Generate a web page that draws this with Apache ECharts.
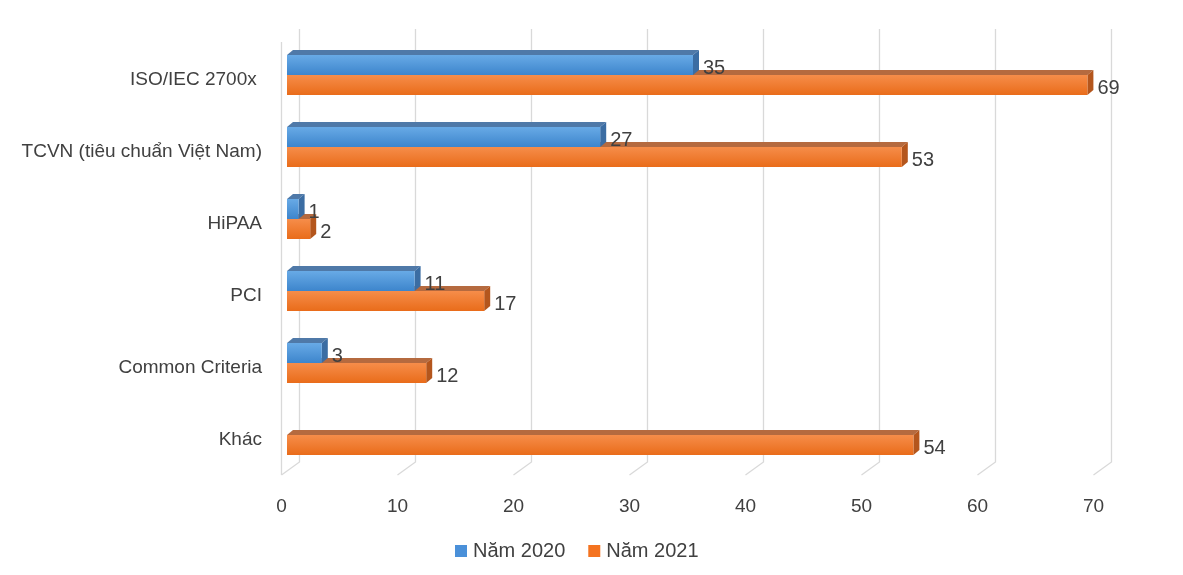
<!DOCTYPE html>
<html>
<head>
<meta charset="utf-8">
<script src="https://cdn.jsdelivr.net/npm/echarts@6/dist/echarts.min.js"></script>
<style>html,body{margin:0;padding:0;background:#fff}#c{width:1183px;height:575px}</style>
</head>
<body>
<div id="c"></div>
<script>
const categories = ['ISO/IEC 2700x ', 'TCVN (tiêu chuẩn Việt Nam)', 'HiPAA', 'PCI', 'Common Criteria', 'Khác'];
const values2020 = [35, 27, 1, 11, 3, 0];
const values2021 = [69, 53, 2, 17, 12, 54];
const xTicks = [0, 10, 20, 30, 40, 50, 60, 70];
const seriesNames = ['Năm 2020', 'Năm 2021'];

const FONT = 'Liberation Sans';
const TXT = '#404040';
const DX = 6, DY = -5, BAR_H = 20;

const palettes = [
  { front: ['#68aae6', '#3d85cc'], top: '#4f79a8', side: '#3b6da3', legend: '#4a90d9' },
  { front: ['#f68d4a', '#e96c1a'], top: '#b56a3f', side: '#b4561d', legend: '#f47320' }
];

function barRender(sIdx) {
  const pal = palettes[sIdx];
  return function (params, api) {
    const v = api.value(0);
    const cat = api.value(1);
    if (!v) return null;
    const p0 = api.coord([0, cat]);
    const p1 = api.coord([v, cat]);
    const yTop = sIdx === 0 ? p0[1] - BAR_H : p0[1];
    const yBot = yTop + BAR_H;
    const x0 = p0[0], x1 = p1[0];
    return {
      type: 'group',
      children: [
        { type: 'polygon', shape: { points: [[x0, yTop], [x0 + DX, yTop + DY], [x1 + DX, yTop + DY], [x1, yTop]] },
          style: { fill: pal.top } },
        { type: 'polygon', shape: { points: [[x1, yTop], [x1 + DX, yTop + DY], [x1 + DX, yBot + DY], [x1, yBot]] },
          style: { fill: pal.side } },
        { type: 'rect', shape: { x: x0, y: yTop, width: x1 - x0, height: BAR_H },
          style: { fill: new echarts.graphic.LinearGradient(0, 0, 0, 1, [
            { offset: 0, color: pal.front[0] }, { offset: 1, color: pal.front[1] }]) } },
        { type: 'text', x: x1 + DX + 4, y: (yTop + yBot) / 2 + 3,
          style: { text: String(v), fill: TXT, font: '20px ' + FONT, textAlign: 'left', textVerticalAlign: 'middle' } }
      ]
    };
  };
}

function gridRender(params, api) {
  const x = api.coord([api.value(0), 0])[0];
  const cs = params.coordSys;
  const top = cs.y - 10;
  const backY = cs.y + cs.height - 9;
  const frontY = backY + 13;
  return {
    type: 'polyline',
    shape: { points: [[x + 12.5, top], [x + 12.5, backY], [x - 5.5, frontY]] },
    style: { stroke: '#d9d9d9', lineWidth: 1.3, fill: 'none' }
  };
}

function wallRender(params, api) {
  const cs = params.coordSys;
  const x = api.coord([0, 0])[0] - 5.5;
  return {
    type: 'line',
    shape: { x1: x, y1: cs.y + 3, x2: x, y2: cs.y + cs.height + 4 },
    style: { stroke: '#d9d9d9', lineWidth: 1.3 }
  };
}

const chart = echarts.init(document.getElementById('c'), null, { renderer: 'canvas' });
chart.setOption({
  animation: false,
  backgroundColor: '#ffffff',
  grid: { left: 287, top: 39, width: 812, height: 432, containLabel: false },
  legend: {
    bottom: 9, left: 450,
    itemWidth: 12, itemHeight: 12, itemGap: 23,
    icon: 'rect',
    textStyle: { fontFamily: FONT, fontSize: 20, color: TXT, padding: [0, 0, 0, 1] },
    data: seriesNames.map((n, i) => ({ name: n, itemStyle: { color: palettes[i].legend } }))
  },
  xAxis: {
    type: 'value', min: 0, max: 70, interval: 10,
    axisLine: { show: false }, axisTick: { show: false }, splitLine: { show: false },
    axisLabel: { fontFamily: FONT, fontSize: 19, color: TXT, margin: 26, padding: [0, 11, 0, 0] }
  },
  yAxis: {
    type: 'category', inverse: true, data: categories,
    axisLine: { show: false }, axisTick: { show: false },
    axisLabel: { fontFamily: FONT, fontSize: 19, color: TXT, margin: 25, verticalAlign: 'top', lineHeight: 10 }
  },
  series: [
    { type: 'custom', name: 'grid', silent: true, z: 0, renderItem: gridRender,
      data: xTicks.map(v => [v]), encode: { x: 0 } },
    { type: 'custom', name: 'wall', silent: true, z: 0, renderItem: wallRender, data: [[0]], encode: { x: 0 } },
    { type: 'custom', name: seriesNames[1], z: 2, renderItem: barRender(1),
      itemStyle: { color: palettes[1].legend },
      data: values2021.map((v, i) => [v, i]), encode: { x: 0, y: 1 } },
    { type: 'custom', name: seriesNames[0], z: 3, renderItem: barRender(0),
      itemStyle: { color: palettes[0].legend },
      data: values2020.map((v, i) => [v, i]), encode: { x: 0, y: 1 } }
  ]
});
</script>
</body>
</html>
